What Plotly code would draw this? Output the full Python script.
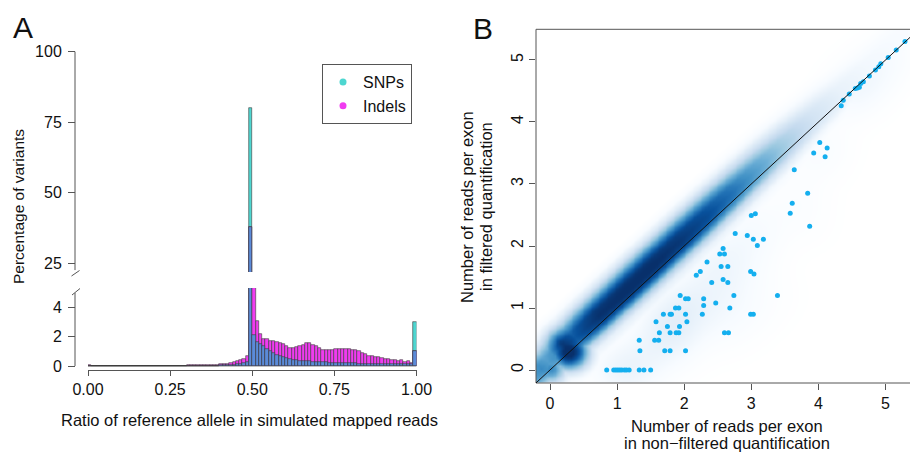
import numpy as np
import plotly.graph_objects as go

# ---------------- Panel A data (percentage of variants per 0.01 bin) ----------------
bin_left = [i / 100 for i in range(100)]
snp_pct = ([0.03] + [0.01] * 19 + [0.015] * 10 + [0.02] * 5 + [0.03] * 5 +
           [0.05, 0.06, 0.07, 0.08, 0.10, 0.12, 0.15, 0.20, 0.28, 80.0,
            2.1, 1.65, 1.5, 1.35, 1.15, 1.0, 0.88, 0.78, 0.68, 0.6,
            0.52, 0.47, 0.43, 0.4, 0.37, 0.35, 0.33, 0.31, 0.29, 0.27,
            0.26, 0.25, 0.24, 0.23, 0.22, 0.22, 0.21, 0.2, 0.2, 0.19,
            0.18, 0.18, 0.17, 0.17, 0.16, 0.16, 0.15, 0.15, 0.15, 0.14,
            0.14, 0.14, 0.13, 0.13, 0.13, 0.12, 0.12, 0.12, 0.12, 3.0])
indel_pct = ([0.06] + [0.02] * 19 + [0.03] * 10 +
             [0.04, 0.04, 0.04, 0.04, 0.04, 0.05, 0.06, 0.07, 0.08, 0.09,
              0.11, 0.13, 0.16, 0.20, 0.24, 0.31, 0.40, 0.50, 0.69, 38.0,
              9.0, 3.02, 2.18, 1.84, 1.8, 1.73, 1.69, 1.64, 1.58, 1.47,
              1.36, 1.24, 1.24, 1.29, 1.36, 1.42, 1.53, 1.53, 1.42, 1.36,
              1.2, 1.11, 1.09, 1.07, 1.11, 1.13, 1.18, 1.18, 1.13, 1.16,
              1.11, 1.07, 1.0, 0.91, 0.84, 0.69, 0.69, 0.64, 0.58, 0.56,
              0.47, 0.47, 0.4, 0.44, 0.36, 0.38, 0.29, 0.36, 0.2, 1.0])
x_ticks_a = [0, 0.25, 0.5, 0.75, 1.0]
x_ticktext_a = ["0.00", "0.25", "0.50", "0.75", "1.00"]

# ---------------- Panel B data ----------------
pts_x = [0.845, 0.95, 0.98, 1.01, 1.04, 1.07, 1.11, 1.14, 1.18, 1.33, 1.40, 1.50,
         1.34, 1.71, 1.79, 2.02,
         1.33, 1.56, 1.62,
         1.63, 1.79, 1.88, 1.92, 2.60, 2.66,
         1.75, 1.93,
         1.58, 2.04,
         1.69, 1.79, 1.81, 2.02, 2.27, 2.99, 3.03,
         1.87, 1.92, 2.68,
         2.29, 2.47,
         2.02, 2.06, 2.29,
         1.94, 2.74, 3.39,
         2.41, 2.65, 2.58, 2.18, 2.24, 2.99, 3.04, 2.55, 2.65, 2.34, 2.53, 2.60,
         2.58, 3.09, 3.03, 3.18, 2.94, 2.76, 3.87, 3.0, 3.06, 3.58, 3.61, 3.84,
         3.64, 4.10, 3.93, 4.13, 4.02,
         4.34, 4.37, 4.46, 4.55, 4.58, 4.61, 4.63, 4.67, 4.76, 4.85, 4.90, 4.93,
         5.04, 5.16, 5.29]
pts_y = ([0.0] * 12 +
         [0.31] * 4 +
         [0.48] * 3 +
         [0.60] * 6 +
         [0.70] * 2 +
         [0.78] * 2 +
         [0.90] * 7 +
         [1.0] * 3 +
         [1.04, 1.08] +
         [1.15] * 3 +
         [1.20] * 3 +
         [1.41, 1.41, 1.46, 1.53, 1.59, 1.59, 1.55, 1.67, 1.67, 1.74, 1.87, 1.87,
          1.96, 2.01, 2.11, 2.11, 2.17, 2.20, 2.32, 2.49, 2.52, 2.53, 2.69, 2.85,
          3.23, 3.44, 3.50, 3.58, 3.67,
          4.26, 4.35, 4.45, 4.54, 4.55, 4.56, 4.62, 4.65, 4.74, 4.84, 4.89, 4.94,
          5.04, 5.16, 5.30])

# smoothed-density appearance
along_u = [-0.2, -0.05, 0.05, 0.15, 0.3, 0.45, 0.6, 0.8, 1.2, 1.6, 2.0, 2.4, 2.8, 3.2, 3.6, 4.0, 4.4, 4.8, 5.5]
along_v = [0.55, 0.62, 0.55, 0.6, 1.0, 0.8, 0.9, 1.0, 1.02, 1.02, 0.97, 0.86, 0.7, 0.52, 0.34, 0.2, 0.11, 0.07, 0.04]
across_d = [-0.75, -0.55, -0.35, -0.2, -0.05, 0.05, 0.15, 0.3, 0.42, 0.55, 0.7, 0.85, 1.0]
across_v = [0.0, 0.04, 0.12, 0.35, 0.78, 0.95, 1.0, 0.95, 0.72, 0.42, 0.16, 0.04, 0.0]
blob_x = [0.28, 0.0]
blob_y = [0.30, 0.02]
blob_r = [0.19, 0.16]
blob_s = [1.1, 0.62]

# ---------------- helpers ----------------
W, H = 910, 453
def px(x):
    return x / W
def py(y):
    return 1 - y / H

FONT = "Liberation Sans, Arial, Helvetica, sans-serif"
C_SNP = "#4DD6D0"
C_IND = "#F03CF0"
C_OVL = "#5B8BD9"
C_EDGE = "#3a3a3a"

centers = [b + 0.005 for b in bin_left]
overlap = [min(a, b) for a, b in zip(snp_pct, indel_pct)]

fig = go.Figure()

for xa, ya in (("x", "y2"), ("x2", "y3")):
    for vals, col in ((snp_pct, C_SNP), (indel_pct, C_IND), (overlap, C_OVL)):
        fig.add_trace(go.Bar(x=centers, y=vals, width=0.01, marker=dict(color=col, line=dict(color=C_EDGE, width=0.6)),
                             xaxis=xa, yaxis=ya, showlegend=False, hoverinfo="skip"))

# legend entries
fig.add_trace(go.Scatter(x=[None], y=[None], mode="markers", name="SNPs",
                         marker=dict(color=C_SNP, size=7), xaxis="x", yaxis="y2"))
fig.add_trace(go.Scatter(x=[None], y=[None], mode="markers", name="Indels",
                         marker=dict(color=C_IND, size=7), xaxis="x", yaxis="y2"))

# ---------------- Panel B density ----------------
g = np.arange(-0.25, 5.5, 0.04)
GX, GY = np.meshgrid(g, g)
U = (GX + GY) / 2
D = GY - GX
Z = np.interp(U, along_u, along_v) * np.interp(D, across_d, across_v)
for bx, by, br, bs in zip(blob_x, blob_y, blob_r, blob_s):
    Z = np.maximum(Z, bs * np.exp(-((GX - bx) ** 2 + (GY - by) ** 2) / (2 * br ** 2)))
K = np.zeros_like(Z)
for a, b in zip(pts_x, pts_y):
    K += np.exp(-((GX - a) ** 2 + (GY - b) ** 2) / (2 * 0.3 ** 2))
Z = np.maximum(Z, 0.13 * K / K.max())
Z = np.clip(Z, 0, 1)

blues = [[0.0, "#FFFFFF"], [0.05, "#F7FBFF"], [0.15, "#DEEBF7"], [0.26, "#C6DBEF"],
         [0.37, "#9ECAE1"], [0.48, "#6BAED6"], [0.59, "#4292C6"], [0.70, "#2171B5"],
         [0.82, "#08519C"], [1.0, "#08306B"]]
fig.add_trace(go.Heatmap(x=g, y=g, z=Z, colorscale=blues, zmin=0, zmax=1, zsmooth="best",
                         showscale=False, hoverinfo="skip", xaxis="x3", yaxis="y4"))
fig.add_trace(go.Scatter(x=pts_x, y=pts_y, mode="markers", marker=dict(color="#14AFEF", size=5),
                         xaxis="x3", yaxis="y4", showlegend=False, hoverinfo="skip"))

tickfont = dict(family=FONT, size=16, color="#111")
fig.update_layout(
    width=W, height=H, margin=dict(l=0, r=0, t=0, b=0, autoexpand=False),
    paper_bgcolor="white", plot_bgcolor="white",
    barmode="overlay", bargap=0,
    font=dict(family=FONT, color="#111"),
    xaxis=dict(domain=[px(88), px(416.5)], range=[0, 1], anchor="y2", automargin=False,
               showline=True, linecolor="#555", linewidth=1, ticks="outside", ticklen=5,
               tickcolor="#555", tickvals=x_ticks_a, ticktext=x_ticktext_a, tickfont=tickfont,
               showgrid=False, zeroline=False),
    xaxis2=dict(domain=[px(88), px(416.5)], range=[0, 1], anchor="y3", visible=False, matches="x",
                automargin=False),
    yaxis2=dict(domain=[py(370), py(288)], range=[-0.27, 5.29], anchor="free", position=px(75),
                showline=False, ticks="outside", ticklen=7, tickcolor="#555", tickvals=[0, 2, 4],
                tickfont=tickfont, showgrid=False, zeroline=False, ticklabelstandoff=3, automargin=False),
    yaxis3=dict(domain=[py(272), py(46)], range=[21.92, 102.02], anchor="free", position=px(75),
                showline=False, ticks="outside", ticklen=7, tickcolor="#555", tickvals=[25, 50, 75, 100],
                tickfont=tickfont, showgrid=False, zeroline=False, ticklabelstandoff=3, automargin=False),
    xaxis3=dict(domain=[px(536), 1.0], range=[-0.2086, 5.365], anchor="y4", automargin=False,
                showline=False, ticks="outside", ticklen=6, tickcolor="#555", tickvals=[0, 1, 2, 3, 4, 5],
                tickfont=dict(family=FONT, size=16, color="#111"), showgrid=False, zeroline=False),
    yaxis4=dict(domain=[py(383), py(29.3)], range=[-0.2097, 5.495], anchor="x3", automargin=False,
                showline=False, ticks="outside", ticklen=6, tickcolor="#555", tickvals=[0, 1, 2, 3, 4, 5],
                tickangle=-90, tickfont=dict(family=FONT, size=16, color="#111"),
                showgrid=False, zeroline=False),
    legend=dict(x=px(322), y=py(64), xanchor="left", yanchor="top", bgcolor="white",
                bordercolor="#555", borderwidth=1, font=dict(family=FONT, size=16, color="#111"),
                itemwidth=30, tracegroupgap=0),
)

shapes = [
    # broken y-axis lines of panel A
    dict(type="line", xref="paper", yref="y3", x0=px(75), x1=px(75), y0=22.6, y1=100, line=dict(color="#555", width=1)),
    dict(type="line", xref="paper", yref="y2", x0=px(75), x1=px(75), y0=0, y1=4.95, line=dict(color="#555", width=1)),
    dict(type="line", xref="paper", yref="paper", x0=px(71.5), y0=py(276), x1=px(79.5), y1=py(270.5), line=dict(color="#555", width=1)),
    dict(type="line", xref="paper", yref="paper", x0=px(72), y0=py(295), x1=px(80), y1=py(288.5), line=dict(color="#555", width=1)),
    # panel B frame
    dict(type="rect", xref="x3 domain", yref="y4 domain", x0=0, y0=0, x1=1.05, y1=1, line=dict(color="#555", width=1), layer="above"),
    # diagonal
    dict(type="line", xref="x3", yref="y4", x0=-0.2086, y0=-0.2086, x1=5.365, y1=5.365, line=dict(color="#111", width=1), layer="above"),
]
fig.update_layout(shapes=shapes)

def note(text, x, y, size, angle=0):
    return dict(text=text, x=px(x), y=py(y), xref="paper", yref="paper", showarrow=False,
                xanchor="center", yanchor="middle", textangle=angle,
                font=dict(size=size, family=FONT, color="#111"))

ann = [
    note("A", 23, 28, 30),
    note("B", 483, 29, 30),
    note("Percentage of variants", 18, 207, 15.5, -90),
    note("Ratio of reference allele in simulated mapped reads", 249, 420, 16.5),
    note("Number of reads per exon", 727, 426, 16.5),
    note("in non\u2212filtered quantification", 727, 443, 16.5),
    note("Number of reads per exon", 467, 207, 16.5, -90),
    note("in filtered quantification", 486, 207, 16.5, -90),
]
fig.update_layout(annotations=ann)

fig.write_html("out.html")
